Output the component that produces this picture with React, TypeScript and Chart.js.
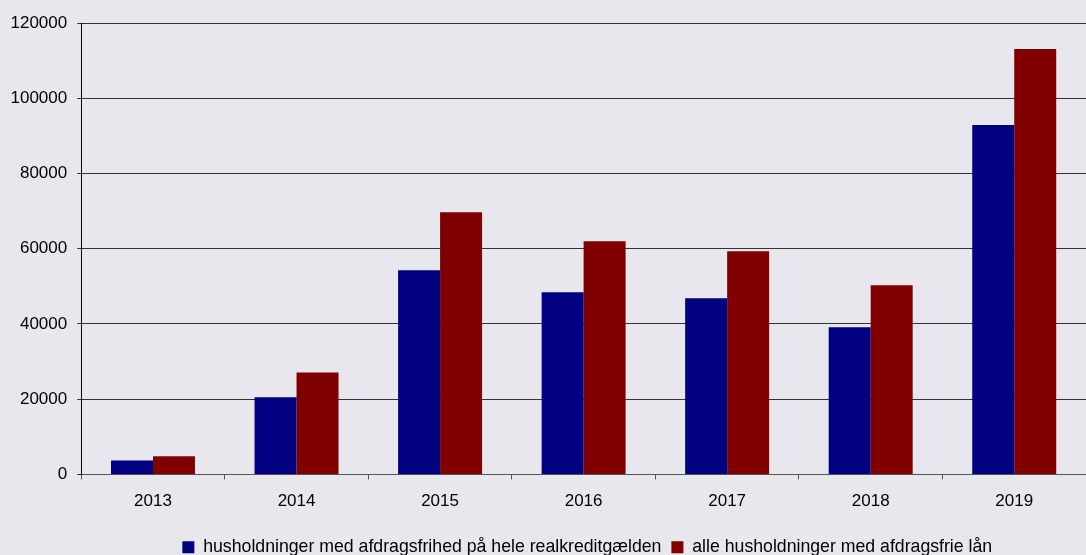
import React, { useEffect, useRef } from "react";
import { Chart, registerables } from "chart.js";

Chart.register(...registerables);

const categories = ["2013", "2014", "2015", "2016", "2017", "2018", "2019"];
const seriesFull = [3700, 20500, 54300, 48400, 46800, 39100, 92900];
const seriesAll = [4800, 27100, 69700, 62000, 59300, 50300, 113100];
const seriesNames = [
  "husholdninger med afdragsfrihed på hele realkreditgælden",
  "alle husholdninger med afdragsfrie lån",
];

const FONT = "'Liberation Sans', Arial, sans-serif";

const legendShift = {
  id: "legendShift",
  afterLayout(chart: any) {
    const lg = chart.legend;
    if (lg) {
      lg.left += 44;
      lg.right += 44;
    }
  },
};

export default function App() {
  const ref = useRef<HTMLCanvasElement | null>(null);
  useEffect(() => {
    document.body.style.margin = "0";
    document.body.style.background = "#e8e7ee";
    const canvas = ref.current;
    if (!canvas) return;
    const chart = new Chart(canvas, {
      type: "bar",
      data: {
        labels: categories,
        datasets: [
          {
            label: seriesNames[0],
            data: seriesFull,
            backgroundColor: "#000080",
            borderWidth: 0,
            barPercentage: 1,
            categoryPercentage: 0.585,
          },
          {
            label: seriesNames[1],
            data: seriesAll,
            backgroundColor: "#800000",
            borderWidth: 0,
            barPercentage: 1,
            categoryPercentage: 0.585,
          },
        ],
      },
      plugins: [legendShift],
      options: {
        responsive: false,
        animation: false,
        layout: { padding: { left: 0.5, top: 23, right: 0, bottom: -11 } },
        plugins: {
          tooltip: { enabled: false },
          legend: {
            position: "bottom",
            labels: {
              boxWidth: 12,
              boxHeight: 12,
              padding: 10,
              color: "#000",
              font: { family: FONT, size: 17.7 },
            },
          },
        },
        scales: {
          x: {
            afterFit: (scale: any) => {
              scale.height += 4.5;
            },
            grid: {
              offset: true,
              drawOnChartArea: false,
              drawTicks: true,
              tickLength: 5,
              color: "#555",
            },
            border: { display: true, color: "#555" },
            ticks: { padding: 12, color: "#000", font: { family: FONT, size: 17 } },
          },
          y: {
            min: 0,
            max: 120000,
            ticks: {
              stepSize: 20000,
              padding: 10,
              color: "#000",
              font: { family: FONT, size: 17 },
              callback: (v: any) => String(v),
            },
            grid: { color: "#333", tickLength: 4 },
            border: { display: true, color: "#000" },
          },
        },
      },
    });
    return () => chart.destroy();
  }, []);
  return (
    <div style={{ width: 1086, height: 555, background: "#e8e7ee" }}>
      <canvas ref={ref} width={1086} height={555} style={{ display: "block" }} />
    </div>
  );
}
